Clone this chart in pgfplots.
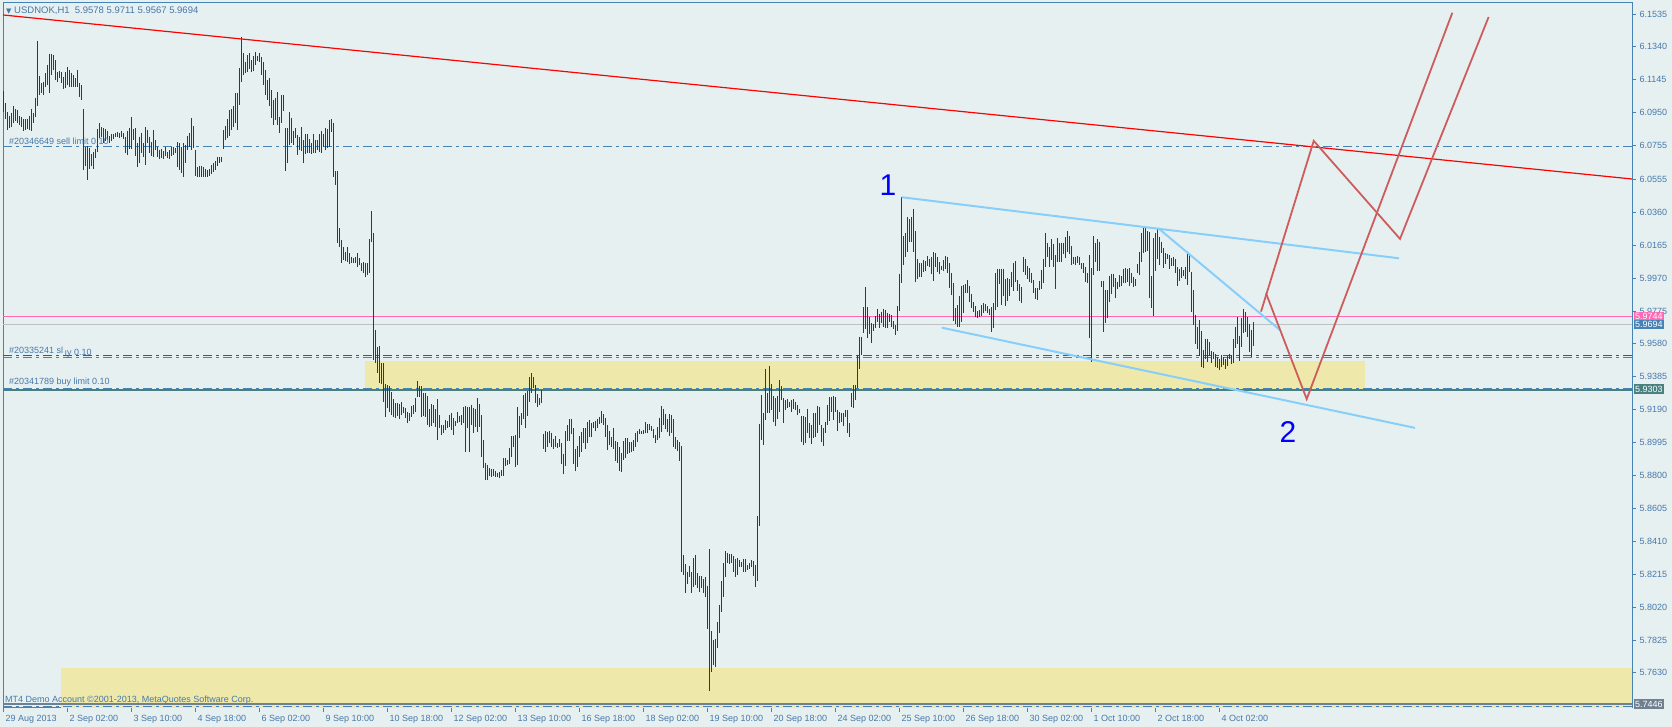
\documentclass[border=0pt]{standalone}
\usepackage{fontspec}
\setmainfont{Liberation Sans}
\newfontfamily\dejavu{DejaVu Sans}
\usepackage{pgfplots}
\usepackage{pgfplotstable}
\pgfplotsset{compat=1.18}
\definecolor{bgc}{RGB}{231,240,241}
\definecolor{framec}{RGB}{70,130,180}
\definecolor{txtc}{RGB}{70,120,170}
\definecolor{barc}{RGB}{40,60,76}
\definecolor{zonec}{RGB}{238,232,170}
\definecolor{lblue}{RGB}{135,206,250}
\definecolor{ired}{RGB}{205,92,92}
\definecolor{hpink}{RGB}{255,105,180}
\definecolor{silverc}{RGB}{192,192,192}
\definecolor{crim}{RGB}{220,20,60}
\definecolor{tealc}{RGB}{72,128,128}
\definecolor{slatec}{RGB}{112,128,144}
\newcommand\tf{\fontsize{9}{10}\selectfont}
\pgfplotstableread{
x h l
3.3 6.1079 6.0954
5.3 6.1008 6.0913
7.3 6.0954 6.0847
9.3 6.0930 6.0859
11.3 6.0948 6.0865
13.3 6.0990 6.0889
15.3 6.0972 6.0901
17.3 6.0966 6.0889
19.3 6.0930 6.0877
21.3 6.0925 6.0865
23.3 6.0913 6.0842
25.3 6.0913 6.0847
27.3 6.0913 6.0853
29.3 6.0930 6.0847
31.3 6.0972 6.0842
33.3 6.0948 6.0889
35.3 6.1037 6.0925
37.3 6.1375 6.0990
39.3 6.1168 6.1055
41.3 6.1126 6.1067
43.3 6.1132 6.1055
45.3 6.1185 6.1102
47.3 6.1233 6.1114
49.3 6.1298 6.1067
51.3 6.1298 6.1173
53.3 6.1292 6.1203
55.3 6.1262 6.1144
57.3 6.1191 6.1132
59.3 6.1197 6.1156
61.3 6.1191 6.1126
63.3 6.1162 6.1091
65.3 6.1191 6.1096
67.3 6.1221 6.1114
69.3 6.1203 6.1102
71.3 6.1185 6.1102
73.3 6.1173 6.1102
75.3 6.1156 6.1102
77.3 6.1203 6.1102
79.3 6.1126 6.1043
81.3 6.1114 6.1025
83.3 6.0972 6.0610
85.3 6.0747 6.0634
87.3 6.0753 6.0551
89.3 6.0741 6.0616
91.3 6.0705 6.0634
93.3 6.0717 6.0616
95.3 6.0735 6.0682
97.3 6.0853 6.0717
99.3 6.0889 6.0800
101.3 6.0865 6.0806
103.3 6.0859 6.0770
105.3 6.0853 6.0782
107.3 6.0842 6.0788
109.3 6.0812 6.0770
111.3 6.0824 6.0782
113.3 6.0824 6.0794
115.3 6.0830 6.0806
117.3 6.0836 6.0806
119.3 6.0830 6.0800
121.3 6.0842 6.0806
123.3 6.0830 6.0794
125.3 6.0806 6.0711
127.3 6.0842 6.0699
129.3 6.0859 6.0735
131.3 6.0925 6.0735
133.3 6.0853 6.0788
135.3 6.0859 6.0693
137.3 6.0770 6.0628
139.3 6.0806 6.0652
141.3 6.0830 6.0711
143.3 6.0770 6.0687
145.3 6.0865 6.0640
147.3 6.0847 6.0770
149.3 6.0806 6.0711
151.3 6.0776 6.0693
153.3 6.0847 6.0687
155.3 6.0788 6.0729
157.3 6.0747 6.0687
159.3 6.0729 6.0676
161.3 6.0735 6.0682
163.3 6.0723 6.0676
165.3 6.0747 6.0693
167.3 6.0717 6.0682
169.3 6.0729 6.0676
171.3 6.0747 6.0693
173.3 6.0747 6.0699
175.3 6.0741 6.0711
177.3 6.0776 6.0628
179.3 6.0770 6.0610
181.3 6.0747 6.0593
183.3 6.0770 6.0569
185.3 6.0759 6.0652
187.3 6.0812 6.0729
189.3 6.0830 6.0747
191.3 6.0919 6.0729
193.3 6.0871 6.0741
195.3 6.0729 6.0575
197.3 6.0628 6.0569
199.3 6.0634 6.0569
201.3 6.0634 6.0569
203.3 6.0628 6.0569
205.3 6.0616 6.0569
207.3 6.0610 6.0569
209.3 6.0616 6.0575
211.3 6.0640 6.0587
213.3 6.0652 6.0599
215.3 6.0664 6.0610
217.3 6.0687 6.0634
219.3 6.0687 6.0652
221.3 6.0687 6.0658
223.3 6.0847 6.0735
225.3 6.0871 6.0788
227.3 6.0913 6.0800
229.3 6.0966 6.0812
231.3 6.0972 6.0847
233.3 6.0990 6.0865
235.3 6.1067 6.0889
237.3 6.1067 6.0847
239.3 6.1215 6.0996
241.3 6.1399 6.1132
243.3 6.1304 6.1173
245.3 6.1251 6.1185
247.3 6.1292 6.1191
249.3 6.1304 6.1209
251.3 6.1262 6.1191
253.3 6.1286 6.1197
255.3 6.1310 6.1233
257.3 6.1286 6.1256
259.3 6.1304 6.1251
261.3 6.1280 6.1173
263.3 6.1251 6.1114
265.3 6.1203 6.1055
267.3 6.1144 6.1025
269.3 6.1156 6.0990
271.3 6.1085 6.0919
273.3 6.1025 6.0877
275.3 6.1037 6.0907
277.3 6.1073 6.0877
279.3 6.0925 6.0830
281.3 6.1055 6.0889
283.3 6.1055 6.0960
285.3 6.0859 6.0604
287.3 6.0859 6.0652
289.3 6.0954 6.0759
291.3 6.0919 6.0770
293.3 6.0842 6.0759
295.3 6.0859 6.0800
297.3 6.0818 6.0699
299.3 6.0806 6.0729
301.3 6.0865 6.0723
303.3 6.0788 6.0652
305.3 6.0824 6.0705
307.3 6.0824 6.0711
309.3 6.0794 6.0711
311.3 6.0770 6.0705
313.3 6.0824 6.0711
315.3 6.0788 6.0711
317.3 6.0788 6.0729
319.3 6.0824 6.0717
321.3 6.0842 6.0711
323.3 6.0824 6.0747
325.3 6.0859 6.0729
327.3 6.0853 6.0741
329.3 6.0907 6.0747
331.3 6.0913 6.0836
333.3 6.0889 6.0569
335.3 6.0604 6.0522
337.3 6.0604 6.0178
339.3 6.0267 6.0154
341.3 6.0196 6.0059
343.3 6.0154 6.0077
345.3 6.0124 6.0071
347.3 6.0154 6.0065
349.3 6.0118 6.0053
351.3 6.0095 6.0059
353.3 6.0089 6.0059
355.3 6.0095 6.0059
357.3 6.0118 6.0035
359.3 6.0089 6.0047
361.3 6.0059 6.0012
363.3 6.0065 6.0000
365.3 6.0059 5.9976
367.3 6.0059 5.9988
369.3 6.0201 6.0000
371.3 6.0367 6.0184
373.3 6.0237 5.9484
375.3 5.9662 5.9466
377.3 5.9561 5.9407
379.3 5.9567 5.9348
381.3 5.9466 5.9342
383.3 5.9466 5.9235
385.3 5.9342 5.9146
387.3 5.9336 5.9200
389.3 5.9330 5.9176
391.3 5.9295 5.9158
393.3 5.9253 5.9146
395.3 5.9229 5.9141
397.3 5.9229 5.9152
399.3 5.9223 5.9135
401.3 5.9235 5.9158
403.3 5.9206 5.9170
405.3 5.9200 5.9141
407.3 5.9176 5.9111
409.3 5.9170 5.9123
411.3 5.9212 5.9146
413.3 5.9218 5.9164
415.3 5.9259 5.9176
417.3 5.9360 5.9265
419.3 5.9330 5.9265
421.3 5.9330 5.9146
423.3 5.9289 5.9152
425.3 5.9289 5.9146
427.3 5.9271 5.9099
429.3 5.9194 5.9087
431.3 5.9223 5.9093
433.3 5.9218 5.9111
435.3 5.9194 5.9087
437.3 5.9253 5.9010
439.3 5.9158 5.9081
441.3 5.9099 5.9040
443.3 5.9099 5.9052
445.3 5.9129 5.9069
447.3 5.9123 5.9081
449.3 5.9158 5.9087
451.3 5.9170 5.9069
453.3 5.9141 5.9040
455.3 5.9123 5.9093
457.3 5.9176 5.9111
459.3 5.9152 5.9117
461.3 5.9158 5.9099
463.3 5.9206 5.9111
465.3 5.9212 5.8939
467.3 5.9206 5.9081
469.3 5.9206 5.8939
471.3 5.9218 5.9099
473.3 5.9200 5.9052
475.3 5.9194 5.9087
477.3 5.9259 5.9058
479.3 5.9223 5.9087
481.3 5.9158 5.8909
483.3 5.9010 5.8844
485.3 5.8874 5.8773
487.3 5.8862 5.8773
489.3 5.8844 5.8797
491.3 5.8838 5.8791
493.3 5.8838 5.8797
495.3 5.8826 5.8791
497.3 5.8815 5.8791
499.3 5.8820 5.8785
501.3 5.8832 5.8797
503.3 5.8903 5.8797
505.3 5.8903 5.8856
507.3 5.8892 5.8862
509.3 5.8963 5.8868
511.3 5.9034 5.8909
513.3 5.9034 5.8969
515.3 5.9040 5.8850
517.3 5.9206 5.8862
519.3 5.9152 5.9022
521.3 5.9170 5.9099
523.3 5.9277 5.9135
525.3 5.9289 5.9081
527.3 5.9301 5.9152
529.3 5.9384 5.9235
531.3 5.9407 5.9289
533.3 5.9384 5.9318
535.3 5.9336 5.9229
537.3 5.9283 5.9206
539.3 5.9259 5.9218
541.3 5.9307 5.9229
543.3 5.9046 5.8957
545.3 5.9063 5.8939
547.3 5.9058 5.8969
549.3 5.9063 5.8992
551.3 5.9052 5.8969
553.3 5.9016 5.8957
555.3 5.9034 5.8969
557.3 5.8992 5.8963
559.3 5.9016 5.8969
561.3 5.8992 5.8868
563.3 5.8927 5.8809
565.3 5.9063 5.8856
567.3 5.9099 5.9004
569.3 5.9135 5.9004
571.3 5.9135 5.9046
573.3 5.9081 5.8868
575.3 5.8957 5.8826
577.3 5.8975 5.8850
579.3 5.9034 5.8909
581.3 5.9058 5.8939
583.3 5.9081 5.8992
585.3 5.9081 5.8957
587.3 5.9117 5.8992
589.3 5.9129 5.9028
591.3 5.9111 5.9028
593.3 5.9117 5.9081
595.3 5.9123 5.9063
597.3 5.9135 5.9081
599.3 5.9146 5.9105
601.3 5.9182 5.9111
603.3 5.9164 5.9099
605.3 5.9141 5.9028
607.3 5.9099 5.8951
609.3 5.9063 5.8980
611.3 5.9028 5.8969
613.3 5.9081 5.8957
615.3 5.9004 5.8886
617.3 5.8998 5.8874
619.3 5.8969 5.8826
621.3 5.8933 5.8820
623.3 5.9004 5.8892
625.3 5.9022 5.8903
627.3 5.9022 5.8927
629.3 5.8998 5.8933
631.3 5.8998 5.8939
633.3 5.9010 5.8945
635.3 5.9052 5.8969
637.3 5.9063 5.8998
639.3 5.9075 5.9046
641.3 5.9063 5.9046
643.3 5.9069 5.9046
645.3 5.9117 5.9052
647.3 5.9105 5.9052
649.3 5.9105 5.9069
651.3 5.9093 5.9063
653.3 5.9075 5.9022
655.3 5.9040 5.8992
657.3 5.9087 5.9010
659.3 5.9141 5.9022
661.3 5.9212 5.9058
663.3 5.9194 5.9099
665.3 5.9164 5.9075
667.3 5.9135 5.9058
669.3 5.9164 5.9034
671.3 5.9158 5.9052
673.3 5.9135 5.8969
675.3 5.9028 5.8957
677.3 5.9010 5.8945
679.3 5.8998 5.8886
681.3 5.8975 5.8228
683.3 5.8329 5.8210
685.3 5.8275 5.8103
687.3 5.8228 5.8157
689.3 5.8263 5.8198
691.3 5.8228 5.8103
693.3 5.8311 5.8139
695.3 5.8329 5.8151
697.3 5.8222 5.8133
699.3 5.8204 5.8109
701.3 5.8204 5.8133
703.3 5.8186 5.8103
705.3 5.8198 5.8080
707.3 5.8145 5.7890
709.3 5.8364 5.7522
711.3 5.7878 5.7635
713.3 5.7825 5.7677
715.3 5.7831 5.7665
717.3 5.7931 5.7777
719.3 5.8032 5.7866
721.3 5.8174 5.7991
723.3 5.8281 5.8080
725.3 5.8352 5.8198
727.3 5.8340 5.8281
729.3 5.8334 5.8275
731.3 5.8334 5.8281
733.3 5.8323 5.8228
735.3 5.8305 5.8198
737.3 5.8311 5.8210
739.3 5.8299 5.8257
741.3 5.8287 5.8257
743.3 5.8305 5.8228
745.3 5.8305 5.8228
747.3 5.8269 5.8240
749.3 5.8281 5.8246
751.3 5.8299 5.8257
753.3 5.8293 5.8204
755.3 5.8269 5.8139
757.3 5.8560 5.8174
759.3 5.9105 5.8500
761.3 5.9277 5.9010
763.3 5.9170 5.8980
765.3 5.9431 5.9129
767.3 5.9289 5.9170
769.3 5.9449 5.9170
771.3 5.9342 5.9188
773.3 5.9271 5.9117
775.3 5.9259 5.9093
777.3 5.9271 5.9135
779.3 5.9366 5.9176
781.3 5.9330 5.9247
783.3 5.9259 5.9111
785.3 5.9247 5.9188
787.3 5.9253 5.9200
789.3 5.9235 5.9206
791.3 5.9247 5.9176
793.3 5.9253 5.9194
795.3 5.9235 5.9188
797.3 5.9218 5.9158
799.3 5.9194 5.9170
801.3 5.9152 5.8998
803.3 5.9152 5.8980
805.3 5.9146 5.8992
807.3 5.9194 5.9052
809.3 5.9111 5.9022
811.3 5.9099 5.8986
813.3 5.9170 5.9022
815.3 5.9170 5.9028
817.3 5.9212 5.9052
819.3 5.9206 5.9099
821.3 5.9099 5.8998
823.3 5.9081 5.8975
825.3 5.9117 5.9052
827.3 5.9218 5.9099
829.3 5.9265 5.9123
831.3 5.9265 5.9176
833.3 5.9271 5.9129
835.3 5.9265 5.9176
837.3 5.9188 5.9063
839.3 5.9176 5.9111
841.3 5.9170 5.9117
843.3 5.9170 5.9093
845.3 5.9188 5.9146
847.3 5.9188 5.9052
849.3 5.9111 5.9028
851.3 5.9289 5.9206
853.3 5.9336 5.9200
855.3 5.9336 5.9247
857.3 5.9514 5.9318
859.3 5.9621 5.9431
861.3 5.9621 5.9514
863.3 5.9798 5.9644
865.3 5.9917 5.9668
867.3 5.9798 5.9615
869.3 5.9739 5.9638
871.3 5.9704 5.9585
873.3 5.9698 5.9656
875.3 5.9745 5.9674
877.3 5.9787 5.9710
879.3 5.9757 5.9674
881.3 5.9769 5.9704
883.3 5.9787 5.9680
885.3 5.9781 5.9674
887.3 5.9763 5.9674
889.3 5.9757 5.9710
891.3 5.9751 5.9680
893.3 5.9715 5.9668
895.3 5.9692 5.9632
897.3 5.9804 5.9656
899.3 5.9994 5.9775
901.3 6.0450 5.9941
903.3 6.0219 6.0047
905.3 6.0237 6.0095
907.3 6.0332 6.0124
909.3 6.0320 6.0184
911.3 6.0332 6.0184
913.3 6.0379 6.0124
915.3 6.0249 5.9947
917.3 6.0083 5.9964
919.3 6.0059 5.9976
921.3 6.0059 5.9976
923.3 6.0077 6.0006
925.3 6.0071 6.0012
927.3 6.0101 6.0041
929.3 6.0083 6.0035
931.3 6.0095 5.9994
933.3 6.0124 5.9953
935.3 6.0118 6.0035
937.3 6.0095 6.0006
939.3 6.0065 5.9994
941.3 6.0041 6.0018
943.3 6.0077 6.0012
945.3 6.0101 6.0024
947.3 6.0095 6.0000
949.3 6.0059 5.9911
951.3 6.0000 5.9870
953.3 5.9941 5.9715
955.3 5.9792 5.9698
957.3 5.9810 5.9680
959.3 5.9864 5.9680
961.3 5.9923 5.9710
963.3 5.9929 5.9763
965.3 5.9935 5.9881
967.3 5.9958 5.9881
969.3 5.9923 5.9828
971.3 5.9875 5.9792
973.3 5.9828 5.9769
975.3 5.9804 5.9739
977.3 5.9775 5.9733
979.3 5.9781 5.9739
981.3 5.9810 5.9745
983.3 5.9822 5.9763
985.3 5.9816 5.9775
987.3 5.9804 5.9763
989.3 5.9787 5.9751
991.3 5.9798 5.9650
993.3 5.9822 5.9674
995.3 6.0000 5.9781
997.3 6.0024 5.9798
999.3 6.0024 5.9935
1001.3 6.0024 5.9810
1003.3 6.0024 5.9864
1005.3 5.9964 5.9804
1007.3 5.9970 5.9834
1009.3 5.9964 5.9864
1011.3 6.0006 5.9917
1013.3 6.0059 5.9893
1015.3 6.0071 5.9947
1017.3 5.9958 5.9893
1019.3 5.9935 5.9834
1021.3 5.9917 5.9822
1023.3 6.0095 6.0006
1025.3 6.0083 5.9988
1027.3 6.0041 5.9964
1029.3 6.0030 5.9947
1031.3 6.0000 5.9941
1033.3 5.9958 5.9881
1035.3 5.9911 5.9846
1037.3 5.9911 5.9840
1039.3 5.9953 5.9899
1041.3 6.0018 5.9905
1043.3 6.0083 5.9941
1045.3 6.0237 6.0035
1047.3 6.0178 6.0095
1049.3 6.0154 6.0035
1051.3 6.0201 6.0077
1053.3 6.0172 6.0035
1055.3 6.0107 5.9905
1057.3 6.0207 6.0065
1059.3 6.0178 6.0065
1061.3 6.0178 6.0065
1063.3 6.0178 6.0113
1065.3 6.0213 6.0089
1067.3 6.0249 6.0124
1069.3 6.0219 6.0113
1071.3 6.0160 6.0047
1073.3 6.0095 6.0053
1075.3 6.0095 6.0047
1077.3 6.0101 6.0059
1079.3 6.0095 6.0047
1081.3 6.0059 6.0024
1083.3 6.0059 6.0000
1085.3 6.0035 5.9947
1087.3 6.0000 5.9941
1089.3 6.0107 5.9615
1091.3 6.0030 5.9472
1093.3 6.0219 5.9988
1095.3 6.0178 6.0065
1097.3 6.0201 6.0012
1099.3 6.0184 6.0012
1101.3 5.9953 5.9917
1103.3 5.9953 5.9650
1105.3 5.9899 5.9704
1107.3 5.9899 5.9733
1109.3 5.9982 5.9828
1111.3 5.9994 5.9875
1113.3 5.9994 5.9917
1115.3 5.9970 5.9852
1117.3 5.9947 5.9905
1119.3 5.9988 5.9917
1121.3 5.9982 5.9923
1123.3 6.0024 5.9941
1125.3 6.0030 5.9941
1127.3 6.0024 5.9947
1129.3 6.0030 5.9923
1131.3 6.0000 5.9941
1133.3 5.9976 5.9917
1135.3 5.9964 5.9923
1137.3 6.0053 6.0000
1139.3 6.0124 5.9988
1141.3 6.0237 6.0065
1143.3 6.0273 6.0118
1145.3 6.0273 6.0124
1147.3 6.0249 6.0130
1149.3 6.0243 5.9852
1151.3 5.9982 5.9792
1153.3 6.0207 5.9745
1155.3 6.0237 6.0012
1157.3 6.0267 6.0083
1159.3 6.0213 6.0047
1161.3 6.0184 6.0118
1163.3 6.0148 6.0030
1165.3 6.0118 6.0053
1167.3 6.0113 6.0083
1169.3 6.0107 6.0024
1171.3 6.0089 6.0041
1173.3 6.0095 6.0041
1175.3 6.0083 6.0000
1177.3 6.0035 5.9923
1179.3 6.0024 5.9953
1181.3 6.0035 5.9970
1183.3 6.0018 5.9982
1185.3 6.0035 5.9964
1187.3 6.0113 5.9929
1189.3 6.0113 6.0006
1191.3 6.0006 5.9769
1193.3 5.9899 5.9692
1195.3 5.9751 5.9579
1197.3 5.9680 5.9549
1199.3 5.9721 5.9508
1201.3 5.9656 5.9443
1203.3 5.9544 5.9437
1205.3 5.9609 5.9490
1207.3 5.9609 5.9472
1209.3 5.9591 5.9508
1211.3 5.9538 5.9466
1213.3 5.9532 5.9490
1215.3 5.9520 5.9443
1217.3 5.9502 5.9437
1219.3 5.9490 5.9425
1221.3 5.9514 5.9443
1223.3 5.9502 5.9455
1225.3 5.9490 5.9431
1227.3 5.9508 5.9449
1229.3 5.9520 5.9490
1231.3 5.9514 5.9461
1233.3 5.9609 5.9466
1235.3 5.9680 5.9555
1237.3 5.9739 5.9579
1239.3 5.9627 5.9478
1241.3 5.9733 5.9561
1243.3 5.9787 5.9644
1245.3 5.9769 5.9650
1247.3 5.9739 5.9621
1249.3 5.9698 5.9532
1251.3 5.9662 5.9502
1253.3 5.9711 5.9567
}\bars
\begin{document}
\begin{tikzpicture}
\fill[bgc] (0,0) rectangle (1672pt,727pt);
\begin{axis}[
  at={(3pt,19pt)}, anchor=south west,
  scale only axis, width=1629pt, height=705pt,
  xmin=3, xmax=1632, ymin=5.7422, ymax=6.1600,
  clip=false,
  axis background/.style={fill=bgc},
  axis line style={draw=framec, line width=1pt},
  tick align=outside, major tick length=4pt,
  tick style={draw=framec, line width=0.8pt},
  xtick pos=bottom, ytick pos=right, yticklabel pos=right,
  xtick={3,67,131,195,259,323,387,451,515,579,643,707,771,835,899,963,1027,1091,1155,1219},
  xticklabels={29 Aug 2013,2 Sep 02:00,3 Sep 10:00,4 Sep 18:00,6 Sep 02:00,9 Sep 10:00,10 Sep 18:00,12 Sep 02:00,13 Sep 10:00,16 Sep 18:00,18 Sep 02:00,19 Sep 10:00,20 Sep 18:00,24 Sep 02:00,25 Sep 10:00,26 Sep 18:00,30 Sep 02:00,1 Oct 10:00,2 Oct 18:00,4 Oct 02:00},
  ytick={5.7630,5.7825,5.8020,5.8215,5.8410,5.8605,5.8800,5.8995,5.9190,5.9385,5.9580,5.9775,5.9970,6.0165,6.0360,6.0555,6.0755,6.0950,6.1145,6.1340,6.1535},
  yticklabels={5.7630,5.7825,5.8020,5.8215,5.8410,5.8605,5.8800,5.8995,5.9190,5.9385,5.9580,5.9775,5.9970,6.0165,6.0360,6.0555,6.0755,6.0950,6.1145,6.1340,6.1535},
  tick label style={font=\tf, text=txtc},
  xticklabel style={anchor=north west, xshift=-1pt},
  yticklabel style={anchor=west},
]
% zones
\addplot[fill=zonec, draw=none, forget plot] coordinates {(365,5.9313) (1365,5.9313) (1365,5.9478) (365,5.9478)} -- cycle;
\addplot[fill=zonec, draw=none, forget plot] coordinates {(61,5.7422) (1632,5.7422) (1632,5.7659) (61,5.7659)} -- cycle;
% horizontal order lines
\addplot[framec, line width=1pt, dash pattern=on 9pt off 4pt on 3pt off 4pt] coordinates {(3,6.0750) (1632,6.0750)};
\addplot[hpink, line width=1pt] coordinates {(3,5.9744) (1632,5.9744)};
\addplot[silverc, line width=1pt] coordinates {(3,5.9694) (1632,5.9694)};
\addplot[crim, line width=1pt, dash pattern=on 9pt off 4pt on 3pt off 4pt] coordinates {(3,5.9512) (1632,5.9512)};
\addplot[framec, line width=1pt, dash pattern=on 9pt off 4pt on 3pt off 4pt] coordinates {(3,5.9500) (1632,5.9500)};
\addplot[framec, line width=1.5pt, dash pattern=on 9pt off 4pt on 3pt off 4pt] coordinates {(3,5.9316) (1632,5.9316)};
\addplot[tealc, line width=1.5pt] coordinates {(3,5.9306) (1632,5.9306)};
\addplot[slatec, line width=2pt] coordinates {(3,5.7446) (1632,5.7446)};
\addplot[framec, line width=1pt, dash pattern=on 9pt off 4pt on 3pt off 4pt] coordinates {(3,5.7431) (1632,5.7431)};
% price bars (high-low)
\addplot[draw=none, mark=none, forget plot,
  error bars/.cd, y dir=minus, y explicit, error mark=none,
  error bar style={draw=barc, line width=1pt}]
  table[x=x, y=h, y error minus expr=\thisrow{h}-\thisrow{l}] {\bars};
% trend lines
\addplot[red, line width=1.2pt] coordinates {(3,6.1529) (1632,6.0557)};
\addplot[lblue, line width=2pt] coordinates {(901.7,6.0449) (1399,6.0087)};
\addplot[lblue, line width=2pt] coordinates {(941.7,5.9676) (1415,5.9082)};
\addplot[lblue, line width=2pt] coordinates {(1158.3,6.0265) (1280,5.9662)};
\addplot[ired, line width=1.8pt] coordinates {(1261,5.9771) (1313.7,6.0783) (1400,6.0202) (1488.6,6.1517)};
\addplot[ired, line width=1.8pt] coordinates {(1266,5.9880) (1306.7,5.9253) (1452.3,6.1542)};
% texts
\node[anchor=west, inner sep=0pt, text=txtc, font=\fontsize{9.5}{10}\selectfont] at (axis cs:6,6.1556) {{\dejavu\fontsize{7}{7}\selectfont ▼}\ USDNOK,H1\ \ 5.9578 5.9711 5.9567 5.9694};
\node[anchor=west, inner sep=0pt, text=txtc, font=\tf] at (axis cs:9,6.0779) {\#20346649 sell limit 0.10};
\node[anchor=base west, inner sep=0pt, text=txtc, font=\tf] (sl) at (axis cs:9,5.9520) {\#20335241 sl};
\node[anchor=base west, inner sep=0pt, text=txtc, font=\tf] at ([xshift=1pt,yshift=-1.5pt]sl.base east) {ıy 0.10};
\node[anchor=west, inner sep=0pt, text=txtc, font=\tf] at (axis cs:9,5.9354) {\#20341789 buy limit 0.10};
\node[anchor=west, inner sep=0pt, text=txtc, font=\tf] at (axis cs:5,5.7466) {MT4 Demo Account ©2001-2013, MetaQuotes Software Corp.};
\node[text=blue, font=\fontsize{30}{30}\selectfont, inner sep=0pt] at (axis cs:888,6.0520) {1};
\node[text=blue, font=\fontsize{30}{30}\selectfont, inner sep=0pt] at (axis cs:1288,5.9055) {2};
% price boxes on the right scale
\node[anchor=west, fill=hpink, text=white, font=\tf, inner sep=1pt, minimum height=9pt] at (axis cs:1634,5.9744) {5.9744};
\node[anchor=west, fill=framec, text=white, font=\tf, inner sep=1pt, minimum height=9pt] at (axis cs:1634,5.9694) {5.9694};
\node[anchor=west, fill=tealc, text=white, font=\tf, inner sep=1pt, minimum height=10pt] at (axis cs:1634,5.9310) {5.9303};
\node[anchor=west, fill=slatec, text=white, font=\tf, inner sep=1pt, minimum height=10pt] at (axis cs:1634,5.7446) {5.7446};
\end{axis}
\pgfresetboundingbox
\path (0,0) rectangle (1672pt,727pt);
\end{tikzpicture}
\end{document}
